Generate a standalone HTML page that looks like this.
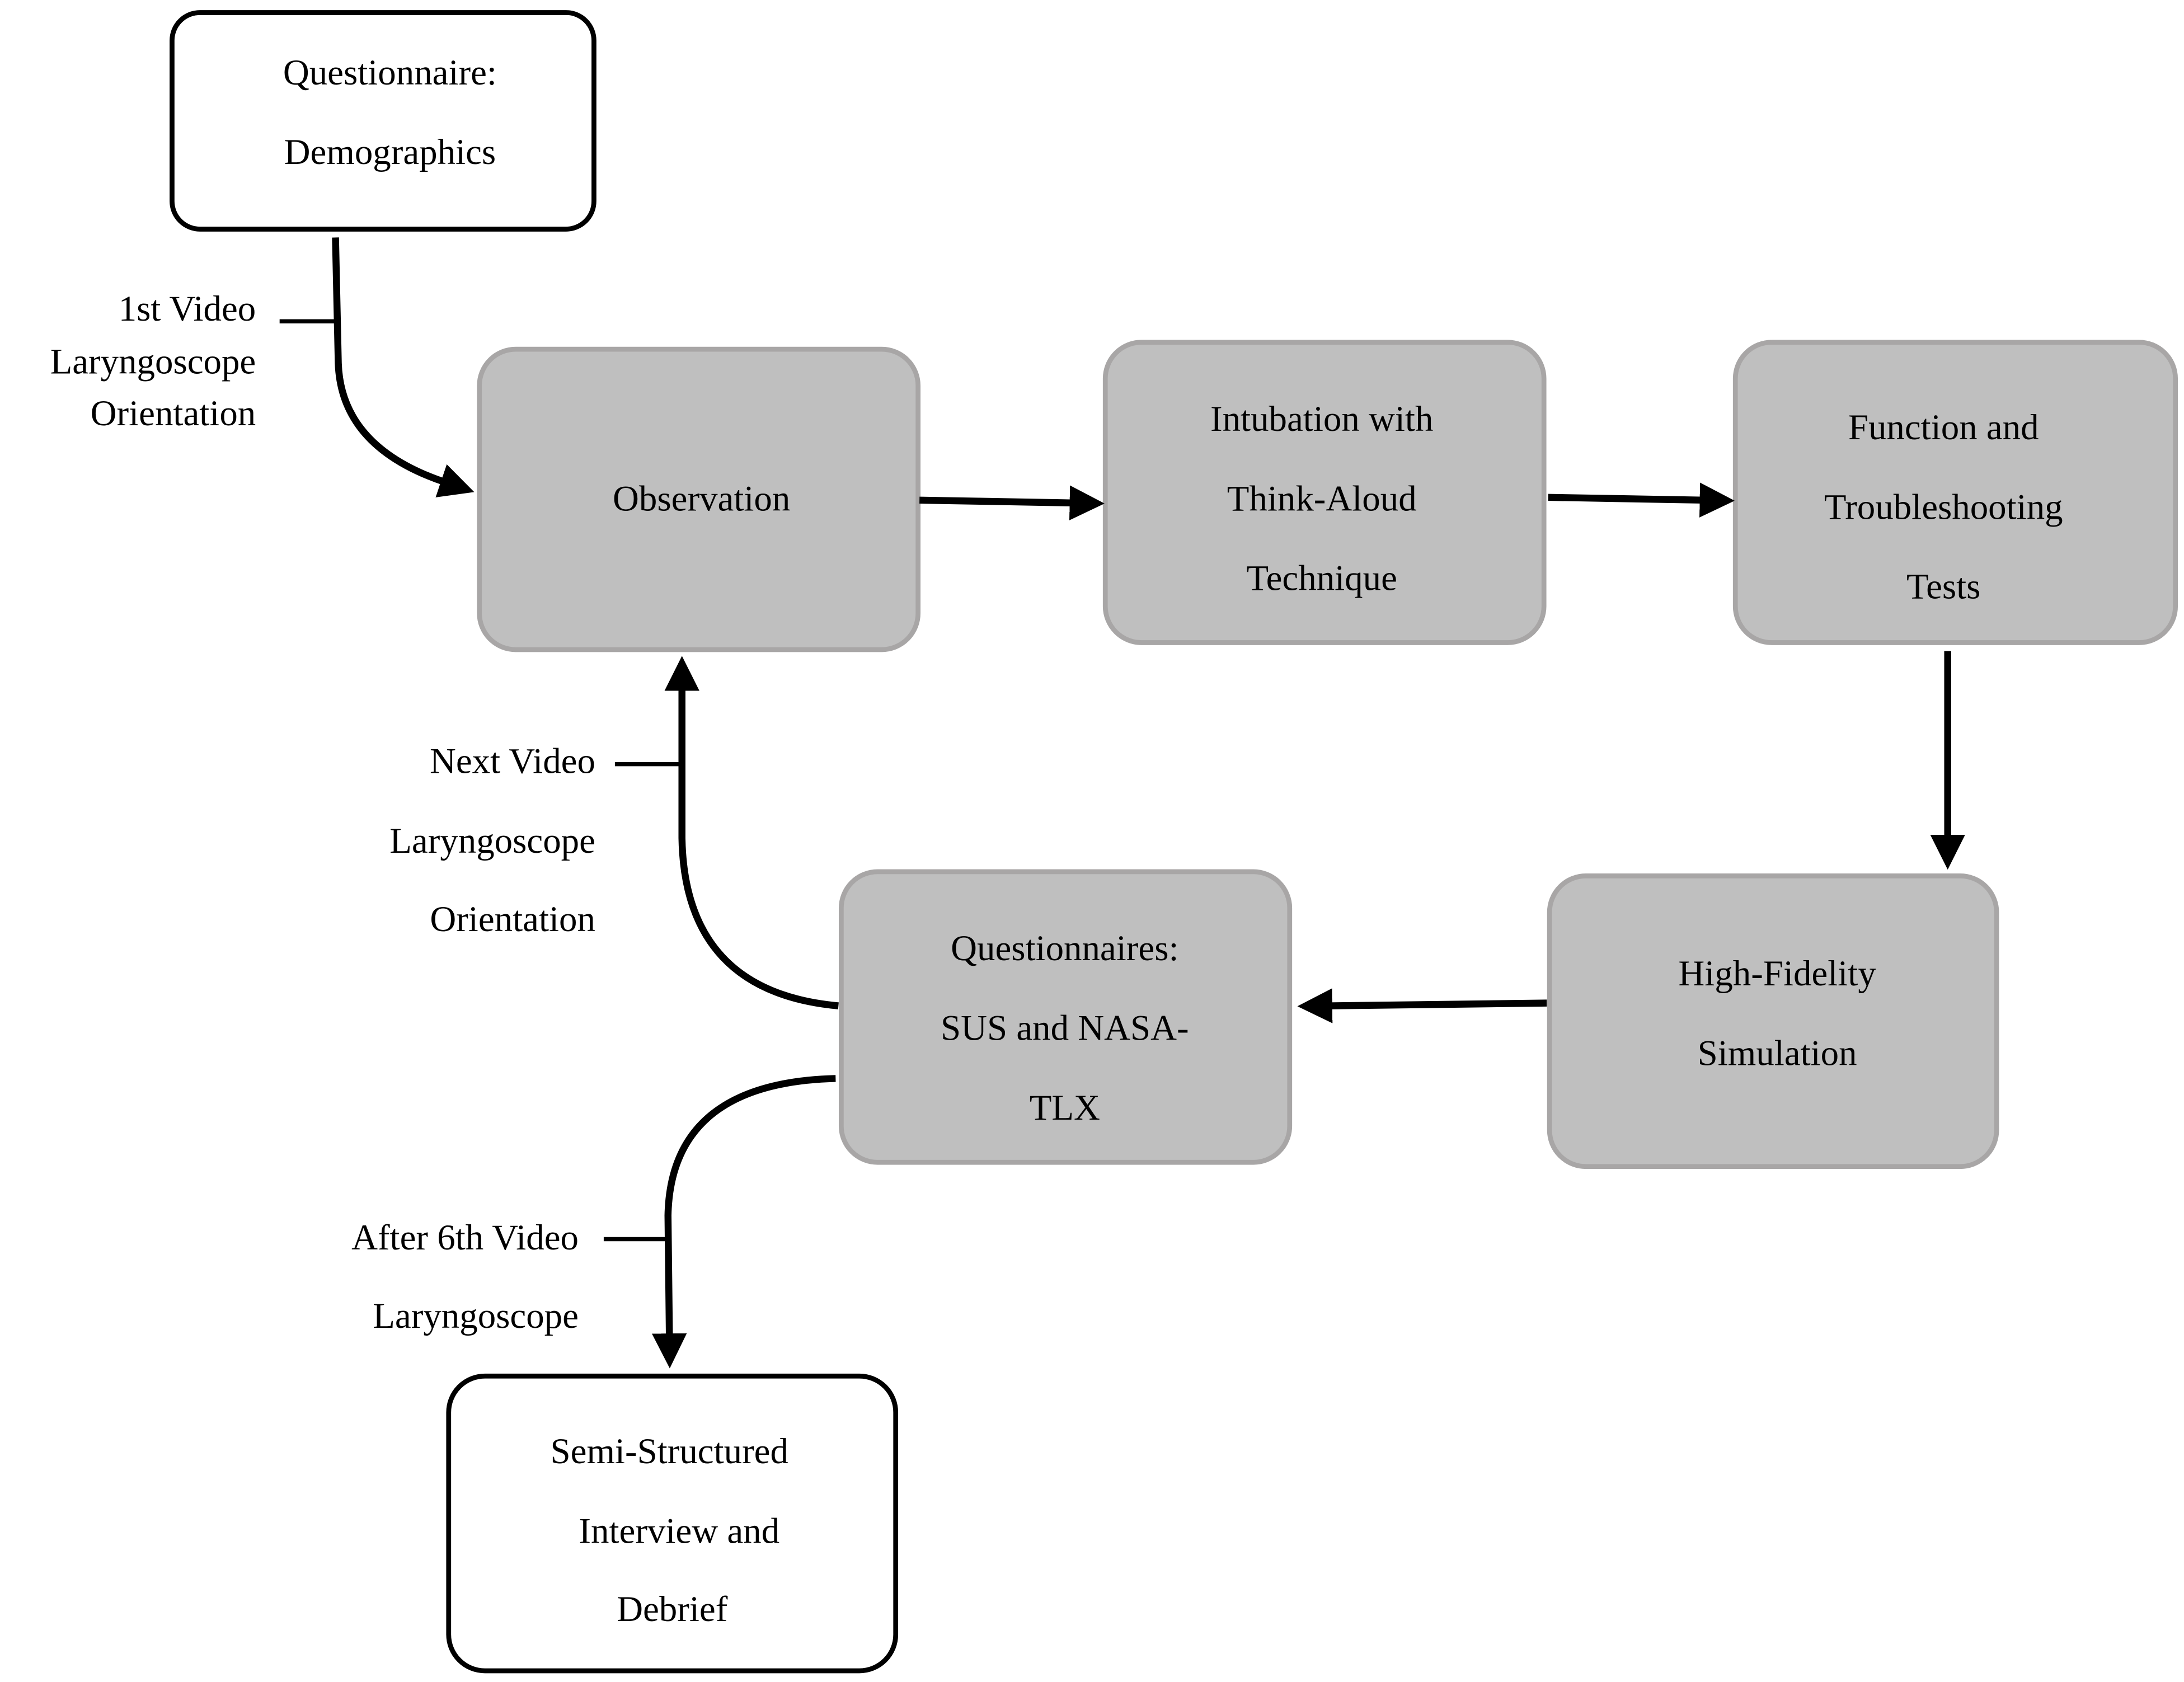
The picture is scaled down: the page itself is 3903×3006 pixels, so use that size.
<!DOCTYPE html>
<html><head><meta charset="utf-8"><style>html,body{margin:0;padding:0;background:#fff}svg{display:block}</style></head>
<body>
<svg xmlns="http://www.w3.org/2000/svg" width="3903" height="3006" viewBox="0 0 1563 1204">
<defs>
<marker id="a" markerWidth="5" markerHeight="5" refX="0.5" refY="2.5" orient="auto" markerUnits="strokeWidth">
<path d="M0,0 L5,2.5 L0,5 Z" fill="#000"/></marker>
</defs>
<g font-family="'Liberation Serif',serif" font-size="26" fill="#000" text-anchor="middle" dominant-baseline="central">
<!-- boxes -->
<rect x="123" y="9" width="302" height="155" rx="20" fill="#fff" stroke="#000" stroke-width="3.5"/>
<rect x="343" y="250" width="314" height="215" rx="26" fill="#bfbfbf" stroke="#a8a6a6" stroke-width="3.5"/>
<rect x="791" y="245" width="314" height="215" rx="26" fill="#bfbfbf" stroke="#a8a6a6" stroke-width="3.5"/>
<rect x="1242" y="245" width="315" height="215" rx="26" fill="#bfbfbf" stroke="#a8a6a6" stroke-width="3.5"/>
<rect x="1109" y="627" width="320" height="208" rx="26" fill="#bfbfbf" stroke="#a8a6a6" stroke-width="3.5"/>
<rect x="602" y="624" width="321" height="208" rx="26" fill="#bfbfbf" stroke="#a8a6a6" stroke-width="3.5"/>
<rect x="321" y="985" width="320" height="211" rx="26" fill="#fff" stroke="#000" stroke-width="3.5"/>

<text x="279" y="52">Questionnaire:</text>
<text x="279" y="109">Demographics</text>
<text x="502" y="357">Observation</text>
<text x="946" y="300">Intubation with</text>
<text x="946" y="357">Think-Aloud</text>
<text x="946" y="414">Technique</text>
<text x="1391" y="306">Function and</text>
<text x="1391" y="363">Troubleshooting</text>
<text x="1391" y="420">Tests</text>
<text x="1272" y="697">High-Fidelity</text>
<text x="1272" y="754">Simulation</text>
<text x="762" y="679">Questionnaires:</text>
<text x="762" y="736">SUS and NASA-</text>
<text x="762" y="793">TLX</text>
<text x="479" y="1039">Semi-Structured</text>
<text x="486" y="1096">Interview and</text>
<text x="481" y="1152">Debrief</text>

<g text-anchor="end">
<text x="183" y="221">1st Video</text>
<text x="183" y="259">Laryngoscope</text>
<text x="183" y="296">Orientation</text>
<text x="426" y="545">Next Video</text>
<text x="426" y="602">Laryngoscope</text>
<text x="426" y="658">Orientation</text>
<text x="414" y="886">After 6th Video</text>
<text x="414" y="942">Laryngoscope</text>
</g>
</g>
<g fill="none" stroke="#000" stroke-width="5">
<path d="M240,170 L242,260 Q244,320 318,345" marker-end="url(#a)"/>
<line x1="200" y1="230" x2="242" y2="230" stroke-width="3"/>
<line x1="658" y1="358" x2="768" y2="360" marker-end="url(#a)"/>
<line x1="1108" y1="356" x2="1219" y2="358" marker-end="url(#a)"/>
<line x1="1394" y1="466" x2="1394" y2="600" marker-end="url(#a)"/>
<line x1="1107" y1="718" x2="951" y2="720" marker-end="url(#a)"/>
<path d="M600,720 Q490,710 488,600 L488,492" marker-end="url(#a)"/>
<line x1="440" y1="547" x2="488" y2="547" stroke-width="3"/>
<path d="M598,772 Q480,775 478,870 L479,957" marker-end="url(#a)"/>
<line x1="432" y1="887" x2="478" y2="887" stroke-width="3"/>
</g>
</svg>
</body></html>
